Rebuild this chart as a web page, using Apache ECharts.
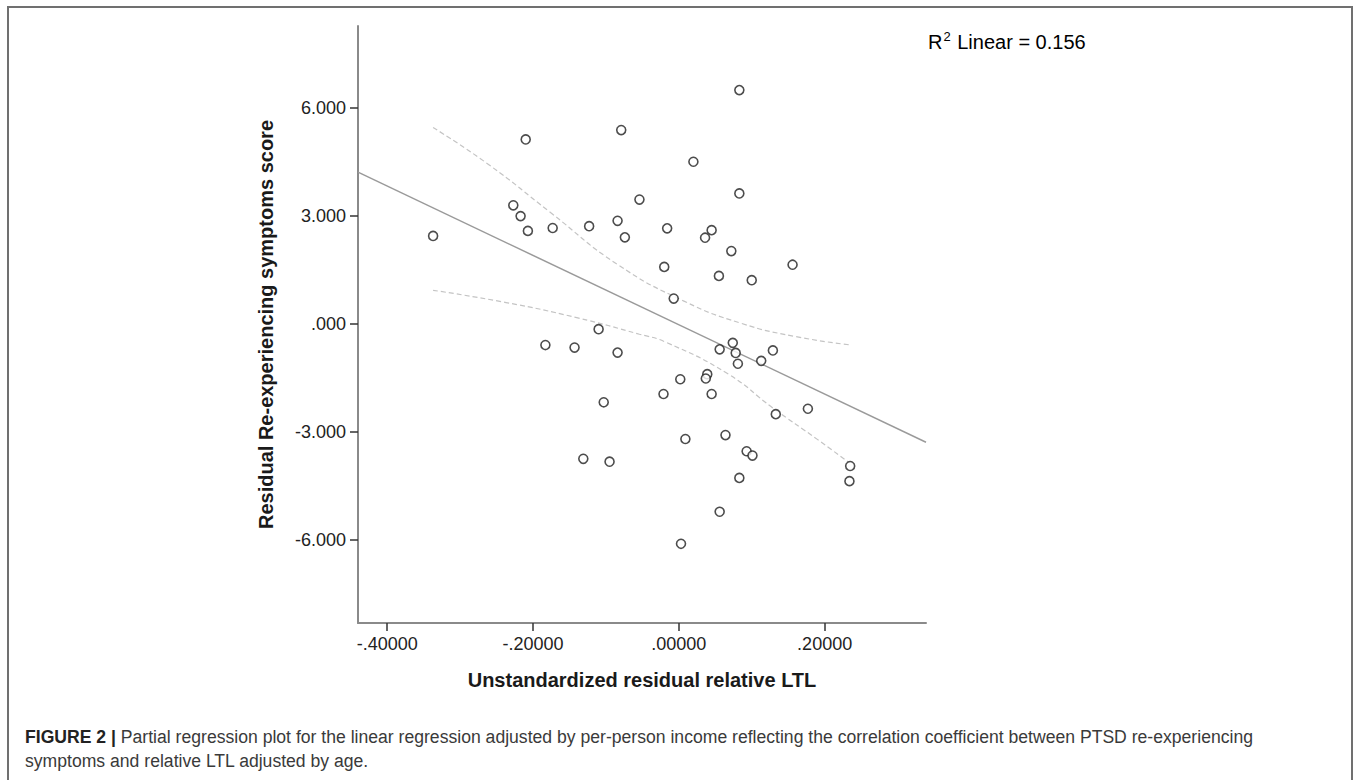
<!DOCTYPE html>
<html>
<head>
<meta charset="utf-8">
<script src="https://cdn.jsdelivr.net/npm/echarts@6.0.0/dist/echarts.min.js"></script>
<style>
  html, body { margin: 0; padding: 0; background: #fff; }
  body { width: 1360px; height: 780px; position: relative; overflow: hidden; }
  .frame {
    position: absolute; left: 7px; top: 6px; width: 1346px; height: 900px;
    border: 2px solid #707070; border-bottom: none; box-sizing: border-box;
  }
  #chart { position: absolute; left: 0; top: 0; width: 1360px; height: 700px; }
  .caption {
    position: absolute; left: 25px; top: 725px; width: 1320px;
    font-family: "Liberation Sans", Arial, sans-serif; font-size: 17.6px;
    line-height: 24px; color: #3a3a3a; white-space: nowrap;
  }
  .caption b { color: #222; }
</style>
</head>
<body>
<div class="frame"></div>
<div id="chart"></div>
<div class="caption"><b>FIGURE 2 |</b> Partial regression plot for the linear regression adjusted by per-person income reflecting the correlation coefficient between PTSD re-experiencing<br>symptoms and relative LTL adjusted by age.</div>
<script>
// residual LTL (x) / residual re-experiencing score (y)
const ltlResid = [
  0.083, -0.079, -0.210, 0.020, 0.083, -0.054, -0.227, -0.217, -0.207, -0.173,
  -0.123, -0.084, -0.074, -0.016, 0.045, 0.036, 0.072, 0.156, -0.020, 0.055,
  0.100, -0.007, -0.337, -0.110, -0.183, -0.143, -0.084, 0.056, 0.074, 0.078,
  0.129, 0.081, 0.113, 0.039, 0.037, 0.002, -0.021, 0.045, -0.103, 0.177,
  0.133, 0.064, 0.009, 0.093, 0.101, -0.131, -0.095, 0.235, 0.234, 0.083,
  0.056, 0.003
];
const scoreResid = [
  6.50, 5.39, 5.13, 4.51, 3.63, 3.46, 3.30, 3.00, 2.59, 2.67,
  2.72, 2.87, 2.41, 2.66, 2.61, 2.40, 2.03, 1.65, 1.59, 1.34,
  1.22, 0.71, 2.45, -0.14, -0.58, -0.65, -0.79, -0.70, -0.52, -0.80,
  -0.73, -1.10, -1.02, -1.39, -1.51, -1.53, -1.94, -1.94, -2.17, -2.35,
  -2.50, -3.08, -3.19, -3.53, -3.65, -3.74, -3.82, -3.94, -4.36, -4.27,
  -5.21, -6.10
];

// fit line and 95% mean confidence band
const fitLine = [[-0.44, 4.22], [0.339, -3.28]];
const upperBand = [[-0.337, 5.46], [-0.262, 4.45], [-0.176, 3.1], [-0.085, 1.67],
  [0.007, 0.64], [0.086, 0.02], [0.159, -0.34], [0.236, -0.58]];
const lowerBand = [[-0.337, 0.94], [-0.237, 0.6], [-0.14, 0.18], [-0.054, -0.28],
  [-0.018, -0.5], [0.068, -1.39], [0.129, -2.33], [0.19, -3.2], [0.233, -3.84]];

const xTickValues = [-0.4, -0.2, 0, 0.2];
const xTickLabels = ['-.40000', '-.20000', '.00000', '.20000'];
const yTickValues = [6, 3, 0, -3, -6];
const yTickLabels = ['6.000', '3.000', '.000', '-3.000', '-6.000'];

const rSquared = '0.156';

const points = ltlResid.map((x, i) => [x, scoreResid[i]]);

const chart = echarts.init(document.getElementById('chart'), null, { renderer: 'svg' });

const axisFont = '"Liberation Sans", Arial, sans-serif';

const option = {
  animation: false,
  grid: { left: 358, top: 26, width: 568, height: 597, containLabel: false },
  xAxis: {
    type: 'value',
    min: -0.44,
    max: 0.339,
    name: 'Unstandardized residual relative LTL',
    nameLocation: 'middle',
    nameGap: 47,
    nameTextStyle: { fontFamily: axisFont, fontSize: 20, fontWeight: 'bold', color: '#1a1a1a' },
    axisLine: { onZero: false, lineStyle: { color: '#8a8a8a', width: 2 } },
    axisTick: { show: true, length: 8, customValues: xTickValues, lineStyle: { color: '#333', width: 1.5 } },
    axisLabel: {
      customValues: xTickValues,
      margin: 12,
      fontFamily: axisFont, fontSize: 18, color: '#222',
      formatter: v => xTickLabels[xTickValues.indexOf(v)]
    },
    splitLine: { show: false }
  },
  yAxis: {
    type: 'value',
    min: -8.3,
    max: 8.28,
    name: 'Residual Re-experiencing symptoms score',
    nameLocation: 'middle',
    nameGap: 82,
    nameTextStyle: { fontFamily: axisFont, fontSize: 20, fontWeight: 'bold', color: '#1a1a1a' },
    axisLine: { onZero: false, lineStyle: { color: '#8a8a8a', width: 2 } },
    axisTick: { show: true, length: 8, customValues: yTickValues, lineStyle: { color: '#333', width: 1.5 } },
    axisLabel: {
      customValues: yTickValues,
      margin: 12,
      fontFamily: axisFont, fontSize: 18, color: '#222',
      formatter: v => yTickLabels[yTickValues.indexOf(v)]
    },
    splitLine: { show: false }
  },
  graphic: [{
    type: 'text',
    left: 928,
    top: 30,
    style: {
      text: '{a|R}{s|2}{a| Linear = ' + rSquared + '}',
      rich: {
        a: { fontFamily: axisFont, fontSize: 20, color: '#222' },
        s: { fontFamily: axisFont, fontSize: 13, color: '#222', verticalAlign: 'top', padding: [0, 1, 10, 1] }
      }
    }
  }],
  series: [
    {
      type: 'line',
      data: fitLine,
      symbol: 'none',
      lineStyle: { color: '#9a9a9a', width: 1.5 },
      z: 2,
      silent: true
    },
    {
      type: 'line',
      data: upperBand,
      smooth: true,
      symbol: 'none',
      lineStyle: { color: '#c4c4c4', width: 1.2, type: [5, 3] },
      z: 1,
      silent: true
    },
    {
      type: 'line',
      data: lowerBand,
      smooth: true,
      symbol: 'none',
      lineStyle: { color: '#c4c4c4', width: 1.2, type: [5, 3] },
      z: 1,
      silent: true
    },
    {
      type: 'scatter',
      data: points,
      symbol: 'circle',
      symbolSize: 9,
      itemStyle: { color: '#fff', borderColor: '#1f1f1f', borderWidth: 1.6 },
      z: 5
    }
  ]
};

chart.setOption(option);
</script>
</body>
</html>
